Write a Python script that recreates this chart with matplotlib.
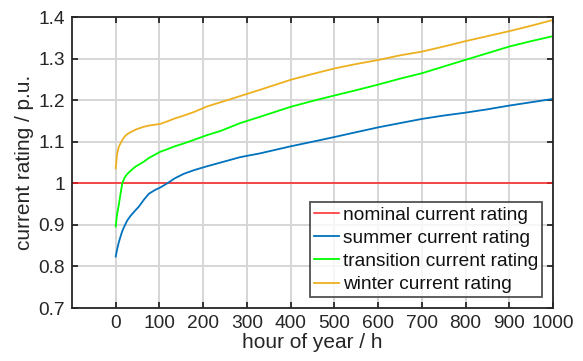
import matplotlib
matplotlib.use('Agg')
import matplotlib.pyplot as plt
from matplotlib.ticker import FormatStrFormatter

plt.rcParams['font.family'] = ['Liberation Sans', 'DejaVu Sans']

# data
hours = [0, 3, 7, 11, 15, 20, 26, 34, 45, 53, 64, 76, 90, 102, 118, 135, 156, 180,
         209, 240, 285, 330, 400, 450, 503, 550, 602, 651, 701, 750, 800, 850, 900, 950, 1000]
summer = [0.824, 0.840, 0.858, 0.872, 0.885, 0.897, 0.910, 0.922, 0.935, 0.944, 0.960, 0.975,
          0.984, 0.990, 1.000, 1.012, 1.023, 1.032, 1.041, 1.050, 1.063, 1.072, 1.089, 1.100,
          1.112, 1.123, 1.135, 1.145, 1.155, 1.163, 1.170, 1.178, 1.187, 1.195, 1.203]
transition = [0.896, 0.925, 0.948, 0.975, 1.000, 1.013, 1.022, 1.030, 1.040, 1.045, 1.052, 1.061,
              1.069, 1.076, 1.082, 1.089, 1.096, 1.105, 1.116, 1.126, 1.145, 1.160, 1.184, 1.198,
              1.212, 1.224, 1.238, 1.252, 1.265, 1.281, 1.297, 1.313, 1.329, 1.342, 1.354]
winter = [1.036, 1.070, 1.088, 1.096, 1.104, 1.112, 1.118, 1.123, 1.129, 1.132, 1.136, 1.139,
          1.141, 1.143, 1.149, 1.156, 1.163, 1.172, 1.185, 1.195, 1.210, 1.225, 1.249, 1.263,
          1.277, 1.287, 1.297, 1.308, 1.317, 1.329, 1.342, 1.354, 1.366, 1.379, 1.393]
nominal = 1.0

xticks = [0, 100, 200, 300, 400, 500, 600, 700, 800, 900, 1000]
yticks = [0.7, 0.8, 0.9, 1.0, 1.1, 1.2, 1.3, 1.4]

fig = plt.figure(figsize=(5.83, 3.61), dpi=100)
ax = fig.add_axes([0.1235, 0.1468, 0.825, 0.806])

# light grid drawn as ordinary lines at the tick positions
for xv in xticks:
    ax.axvline(xv, color='#d6d6d6', lw=1.4, zorder=0.5)
for yv in yticks:
    ax.axhline(yv, color='#d6d6d6', lw=1.4, zorder=0.5)

ax.axhline(nominal, color='#ff2020', lw=1.1, label='nominal current rating')
ax.plot(hours, summer, color='#0072BD', lw=1.3, label='summer current rating')
ax.plot(hours, transition, color='#00ff00', lw=1.3, label='transition current rating')
ax.plot(hours, winter, color='#EDB120', lw=1.3, label='winter current rating')

ax.set_xlim(-100, 1000)
ax.set_ylim(0.7, 1.4)
ax.set_xticks(xticks)
ax.set_yticks(yticks)
ax.yaxis.set_major_formatter(FormatStrFormatter('%g'))
ax.tick_params(direction='in', top=True, right=True, length=4, width=1.3,
               labelsize=13.8, colors='#262626', pad=5)
for s in ax.spines.values():
    s.set_color('#262626')
    s.set_linewidth(1.3)

ax.set_xlabel('hour of year / h', fontsize=15, color='#262626', labelpad=1)
ax.set_ylabel('current rating / p.u.', fontsize=15, color='#262626', labelpad=3)

leg = ax.legend(loc='lower right', fontsize=13.8, frameon=True, fancybox=False,
                edgecolor='#262626', handlelength=1.3, handletextpad=0.2,
                borderpad=0.2, labelspacing=0.3, borderaxespad=0.57)
leg.get_frame().set_linewidth(1.3)
for t in leg.get_texts():
    t.set_color('#111111')

fig.savefig('out.png', dpi=100)
